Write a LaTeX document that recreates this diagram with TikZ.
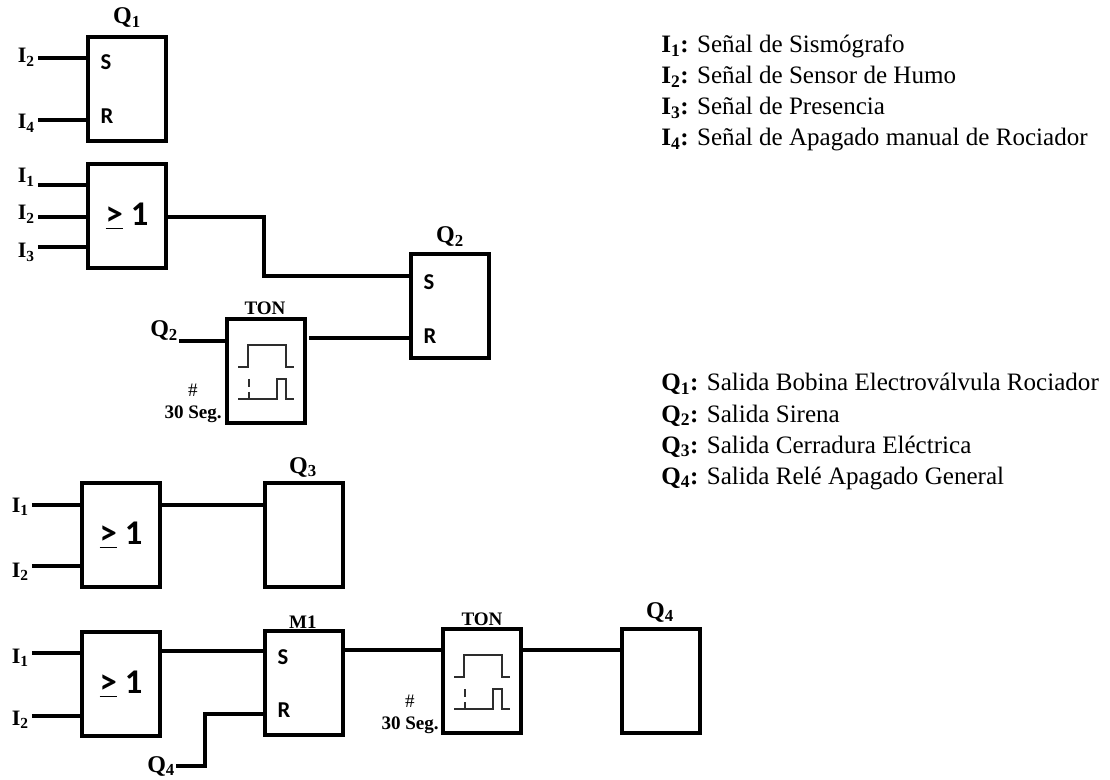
\documentclass[tikz,border=0pt]{standalone}
\usepackage{fontspec}
\setmainfont{Liberation Serif}
\newfontfamily\blockfont{Carlito}
\tikzset{
  blockbox/.style={draw, line width=2.3pt, minimum width=58.5pt, minimum height=78pt, inner sep=0pt, outer sep=0pt},
  orbox/.style={blockbox, font=\blockfont\bfseries\fontsize{26}{28}\selectfont},
  pintext/.style={inner sep=0pt, font=\blockfont\bfseries\fontsize{17}{19}\selectfont},
  outtext/.style={inner sep=0.75pt, font=\bfseries\fontsize{18}{20}\selectfont},
  intext/.style={inner sep=2pt, font=\bfseries\fontsize{16.5}{18}\selectfont},
  timetext/.style={inner sep=0.75pt, font=\bfseries\fontsize{14.3}{16}\selectfont},
  legendtext/.style={inner sep=0pt, font=\fontsize{18.8}{21}\selectfont},
  wire/.style={line width=3pt},
  pulse/.style={line width=1.3pt, color={rgb, 255:red, 45; green, 45; blue, 45}},
}

\begin{document}
\begin{tikzpicture}[x=0.75pt,y=0.75pt,yscale=-1,xscale=1]
\useasboundingbox (0,0) rectangle (1110,780);

%Shape: Rectangle Q1
\draw (88,37) node (q1box) [blockbox, anchor=north west] {};
%Shape: Rectangle OR1
\draw (88,164) node (or1box) [orbox, anchor=north west] {\underline{>} 1};
%Shape: Rectangle Q2
\draw (411,254) node (q2box) [blockbox, anchor=north west] {};
%Shape: Rectangle TON1
\draw (227,319) node (ton1box) [blockbox, anchor=north west] {};
%Shape: Rectangle OR2
\draw (82,483) node (or2box) [orbox, anchor=north west] {\raisebox{-3pt}{\underline{>} 1}};
%Shape: Rectangle Q3
\draw (265,483) node (q3box) [blockbox, anchor=north west] {};
%Shape: Rectangle OR3
\draw (82,632) node (or3box) [orbox, anchor=north west] {\raisebox{-3pt}{\underline{>} 1}};
%Shape: Rectangle M1
\draw (265,631) node (m1box) [blockbox, anchor=north west] {};
%Shape: Rectangle TON2
\draw (443,629) node (ton2box) [blockbox, anchor=north west] {};
%Shape: Rectangle Q4
\draw (622,629) node (q4box) [blockbox, anchor=north west] {};

% Text Node
\draw (106,62) node (q1s) [pintext] {S};
\draw (107,116) node (q1r) [pintext] {R};
\draw (429,282) node (q2s) [pintext] {S};
\draw (430,336) node (q2r) [pintext] {R};
\draw (283,657) node (m1s) [pintext] {S};
\draw (284,710) node (m1r) [pintext] {R};

% Text Node
\draw (127,24) node (q1lbl) [outtext, anchor=base] {Q\textsubscript{1}};
\draw (450,243) node (q2lbl) [outtext, anchor=base] {Q\textsubscript{2}};
\draw (303,473) node (q3lbl) [outtext, anchor=base] {Q\textsubscript{3}};
\draw (660,618) node (q4lbl) [outtext, anchor=base] {Q\textsubscript{4}};
\draw (149,337) node (q2in) [outtext, anchor=base west] {Q\textsubscript{2}};
\draw (146,772) node (q4in) [outtext, anchor=base west] {Q\textsubscript{4}};

% Text Node
\draw (15,63) node (i2a) [intext, anchor=base west] {I\textsubscript{2}};
\draw (15,129) node (i4a) [intext, anchor=base west] {I\textsubscript{4}};
\draw (15,183) node (i1b) [intext, anchor=base west] {I\textsubscript{1}};
\draw (15,220) node (i2b) [intext, anchor=base west] {I\textsubscript{2}};
\draw (15,258) node (i3b) [intext, anchor=base west] {I\textsubscript{3}};
\draw (9,512) node (i1c) [intext, anchor=base west] {I\textsubscript{1}};
\draw (9,577) node (i2c) [intext, anchor=base west] {I\textsubscript{2}};
\draw (9,663) node (i1d) [intext, anchor=base west] {I\textsubscript{1}};
\draw (9,725) node (i2d) [intext, anchor=base west] {I\textsubscript{2}};

% Text Node
\draw (265,315) node (ton1lbl) [timetext, anchor=base] {TON};
\draw (193,397) node (ton1mark) [timetext, font=\fontsize{14.3}{16}\selectfont, anchor=base] {\#};
\draw (223,419) node (ton1time) [timetext, anchor=base east] {30 Seg.};
\draw (482,625) node (ton2lbl) [timetext, anchor=base] {TON};
\draw (410,707) node (ton2mark) [timetext, font=\fontsize{14.3}{16}\selectfont, anchor=base] {\#};
\draw (440,729) node (ton2time) [timetext, anchor=base east] {30 Seg.};
\draw (303,628) node (m1lbl) [timetext, anchor=base] {M1};

% Text Node
\draw (661,52.5) node (leg1) [legendtext, anchor=base west] {\textbf{I\textsubscript{1}:} Señal de Sismógrafo};
\draw (661,83.5) node (leg2) [legendtext, anchor=base west] {\textbf{I\textsubscript{2}:} Señal de Sensor de Humo};
\draw (661,114.5) node (leg3) [legendtext, anchor=base west] {\textbf{I\textsubscript{3}:} Señal de Presencia};
\draw (661,145.5) node (leg4) [legendtext, anchor=base west] {\textbf{I\textsubscript{4}:} Señal de Apagado manual de Rociador};
\draw (661,391) node (leg5) [legendtext, anchor=base west] {\textbf{Q\textsubscript{1}:} Salida Bobina Electroválvula Rociador};
\draw (661,422) node (leg6) [legendtext, anchor=base west] {\textbf{Q\textsubscript{2}:} Salida Sirena};
\draw (661,453) node (leg7) [legendtext, anchor=base west] {\textbf{Q\textsubscript{3}:} Salida Cerradura Eléctrica};
\draw (661,484) node (leg8) [legendtext, anchor=base west] {\textbf{Q\textsubscript{4}:} Salida Relé Apagado General};

%Connection points
\coordinate (a1) at (88,58);
\coordinate (a2) at (88,120);
\coordinate (b1) at (88,185);
\coordinate (b2) at (88,217);
\coordinate (b3) at (88,247);
\coordinate (bout) at (168,217);
\coordinate (bbend) at (264,276);
\coordinate (cin) at (411,276);
\coordinate (ton1in) at (227,341);
\coordinate (ton1out) at (309,338);
\coordinate (e1) at (82,505);
\coordinate (e2) at (82,566);
\coordinate (f1) at (82,653);
\coordinate (f2) at (82,716);
\coordinate (fout) at (160,651);
\coordinate (m1in) at (265,714);
\coordinate (m1bend) at (205,766);
\coordinate (m1out) at (343,650);
\coordinate (ton2out) at (522,650);

%Straight Lines
\draw [wire] (i2a.east |- a1) -- (a1);
\draw [wire] (i4a.east |- a2) -- (a2);
\draw [wire] (i1b.east |- b1) -- (b1);
\draw [wire] (i2b.east |- b2) -- (b2);
\draw [wire] (i3b.east |- b3) -- (b3);
\draw [wire] (bout) -| (bbend) -- (cin);
\draw [wire] (q2in.east |- ton1in) -- (ton1in);
\draw [wire] (ton1out) -- (q2box.west |- ton1out);
\draw [wire] (i1c.east |- e1) -- (e1);
\draw [wire] (i2c.east |- e2) -- (e2);
\draw [wire] (or2box.east |- e1) -- (q3box.west |- e1);
\draw [wire] (i1d.east |- f1) -- (f1);
\draw [wire] (i2d.east |- f2) -- (f2);
\draw [wire] (or3box.east |- fout) -- (m1box.west |- fout);
\draw [wire] (q4in.east |- m1bend) -- (m1bend) |- (m1in);
\draw [wire] (m1out) -- (ton2box.west |- m1out);
\draw [wire] (ton2out) -- (q4box.west |- ton2out);

%Pulse symbol TON1
\draw [pulse, shift={(227,319)}] (11,48) -- (21,48) -- (21,26) -- (59,26) -- (59,48) -- (67,48) ;
\draw [pulse, shift={(227,319)}] (11,80) -- (50,80) -- (50,60) -- (59,60) -- (59,80) -- (67,80) ;
\draw [pulse, shift={(227,319)}] (22,60) -- (22,68) (22,73) -- (22,80) ;
%Pulse symbol TON2
\draw [pulse, shift={(443,629)}] (11,48) -- (21,48) -- (21,26) -- (59,26) -- (59,48) -- (67,48) ;
\draw [pulse, shift={(443,629)}] (11,80) -- (50,80) -- (50,60) -- (59,60) -- (59,80) -- (67,80) ;
\draw [pulse, shift={(443,629)}] (22,60) -- (22,68) (22,73) -- (22,80) ;

\end{tikzpicture}
\end{document}
